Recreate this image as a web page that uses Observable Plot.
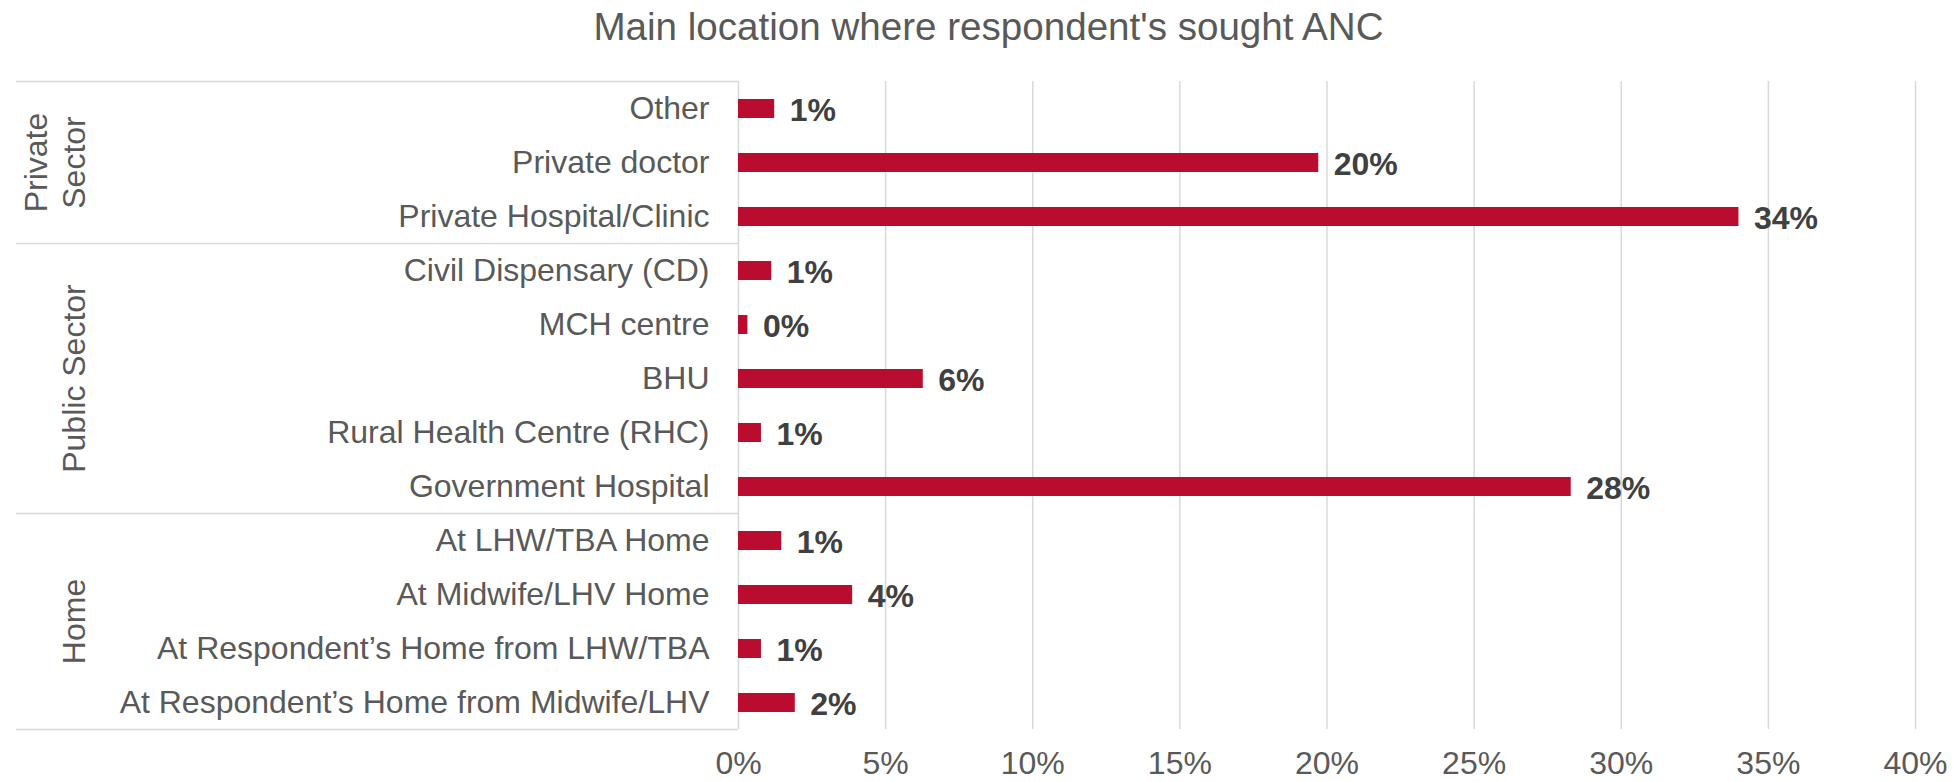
<!DOCTYPE html>
<html>
<head>
<meta charset="utf-8">
<script src="https://cdn.jsdelivr.net/npm/d3@7"></script>
<script src="https://cdn.jsdelivr.net/npm/@observablehq/plot@0.6"></script>
<style>
  html, body { margin: 0; padding: 0; background: #ffffff; }
  #title {
    width: 1959px; height: 54px; line-height: 54px;
    box-sizing: border-box; padding-left: 18px;
    text-align: center; font-family: "Liberation Sans", Arial, sans-serif;
    font-size: 38.6px; color: #595959; white-space: nowrap;
  }
</style>
</head>
<body>
<div id="title">Main location where respondent's sought ANC</div>
<div id="chart"></div>
<script>
const titleText = "Main location where respondent's sought ANC";
const categories = [
  "Other",
  "Private doctor",
  "Private Hospital/Clinic",
  "Civil Dispensary (CD)",
  "MCH centre",
  "BHU",
  "Rural Health Centre (RHC)",
  "Government Hospital",
  "At LHW/TBA Home",
  "At Midwife/LHV Home",
  "At Respondent’s Home from LHW/TBA",
  "At Respondent’s Home from Midwife/LHV"
];
const groupOf = [
  "Private Sector", "Private Sector", "Private Sector",
  "Public Sector", "Public Sector", "Public Sector", "Public Sector", "Public Sector",
  "Home", "Home", "Home", "Home"
];
const groupNames = ["Private Sector", "Public Sector", "Home"];
const groupLabelLines = [["Private", "Sector"], ["Public Sector"], ["Home"]];
const values = [0.0123, 0.1972, 0.3400, 0.0113, 0.0032, 0.0628, 0.0078, 0.2830, 0.0147, 0.0388, 0.0078, 0.0193];
const xTicks = [0, 0.05, 0.10, 0.15, 0.20, 0.25, 0.30, 0.35, 0.40];

const fmt = d3.format(".0%");
const data = categories.map((c, i) => ({category: c, group: groupOf[i], value: values[i]}));

const fontFamily = "'Liberation Sans', Arial, sans-serif";

function groupFrame(index, scales, values_, dimensions) {
  const y = scales.y;
  const bw = typeof y.bandwidth === "function" ? y.bandwidth() : scales.scales.y.bandwidth;
  const step = typeof y.step === "function" ? y.step() : scales.scales.y.step;
  const pad = (step - bw) / 2;
  const g = d3.create("svg:g");
  const xLeft = 16, xRight = dimensions.marginLeft;
  const bounds = groupNames.map(name => {
    const cats = categories.filter((c, i) => groupOf[i] === name);
    const top = y(cats[0]) - pad;
    const bottom = y(cats[cats.length - 1]) + bw + pad;
    return {name, top, bottom};
  });
  const lineYs = bounds.map(b => b.top).concat([bounds[bounds.length - 1].bottom]);
  g.selectAll("line").data(lineYs).join("line")
    .attr("x1", xLeft).attr("x2", xRight)
    .attr("y1", d => d).attr("y2", d => d)
    .attr("stroke", "#d9d9d9").attr("stroke-width", 1.5);
  const lastBaseline = 85;
  const lineGap = 38.4;
  bounds.forEach((b, gi) => {
    const lines = groupLabelLines[gi];
    const yc = (b.top + b.bottom) / 2;
    lines.forEach((ln, li) => {
      const bx = lastBaseline - (lines.length - 1 - li) * lineGap;
      g.append("text")
        .attr("transform", `translate(${bx},${yc}) rotate(-90)`)
        .attr("text-anchor", "middle")
        .attr("font-family", fontFamily)
        .attr("font-size", 32)
        .attr("fill", "#595959")
        .text(ln);
    });
  });
  return g.node();
}

const chart = Plot.plot({
  width: 1959,
  height: 728,
  marginTop: 27,
  marginBottom: 53,
  marginLeft: 738,
  marginRight: 44,
  style: {fontFamily, fontSize: "32px", color: "#595959", background: "#ffffff", overflow: "visible"},
  x: {domain: [0, 0.4], label: null},
  y: {domain: categories, paddingInner: 0.65, paddingOuter: 0.325, label: null},
  marks: [
    Plot.gridX(xTicks, {stroke: "#d9d9d9", strokeOpacity: 1, strokeWidth: 1.5}),
    Plot.barX(data, {x: "value", y: "category", fill: "#BA0C2F"}),
    Plot.text(data, {
      x: "value", y: "category", text: d => fmt(d.value),
      textAnchor: "start", dx: 15, dy: 2,
      fontWeight: "bold", fontSize: 32, fill: "#404040"
    }),
    Plot.axisX({ticks: xTicks, tickSize: 0, tickPadding: 22, tickFormat: fmt, fontSize: 32, label: null}),
    Plot.axisY({tickSize: 0, tickPadding: 29, fontSize: 32, label: null}),
    groupFrame
  ]
});
document.getElementById("chart").appendChild(chart);
</script>
</body>
</html>
